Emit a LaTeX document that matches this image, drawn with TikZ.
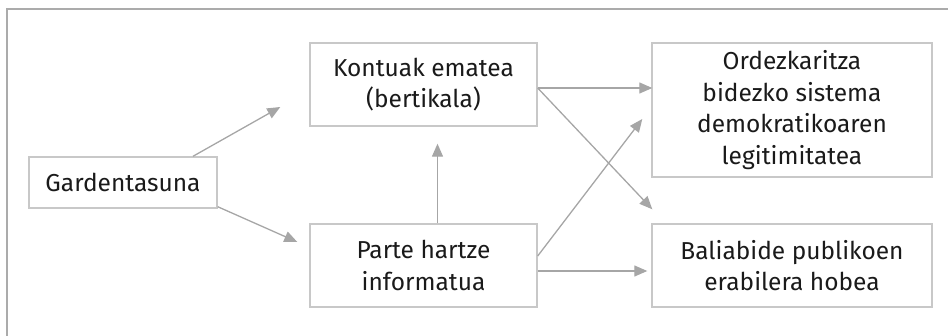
\documentclass[tikz,border=0pt]{standalone}
\usepackage{fontspec}
\setmainfont{Fira Sans}
\usetikzlibrary{arrows.meta}
\definecolor{boxgray}{HTML}{C8C8C8}
\definecolor{arrgray}{HTML}{A6A6A6}
\definecolor{framegray}{HTML}{ABABAB}
\definecolor{txt}{HTML}{1A1A1A}
\tikzset{
  box/.style={draw=boxgray, line width=1.4pt, rectangle, inner sep=0pt, align=center,
    text=txt, font=\fontsize{24.5pt}{31.5pt}\selectfont},
  arr/.style={draw=arrgray, line width=1.3pt, -{Triangle[length=13pt,width=11pt]}}
}
\begin{document}
\begin{tikzpicture}[x=1pt,y=1pt]
\useasboundingbox (0,0) rectangle (948,-336);
\draw[framegray, line width=1.4pt] (7,-336) -- (7,-9) -- (948,-9);

\node[box, minimum width=188pt, minimum height=51pt] (g) at (123,-182.5) {Gardentasuna};
\node[box, minimum width=227pt, minimum height=83pt] (k) at (423.5,-84.5) {Kontuak ematea\\(bertikala)};
\node[box, minimum width=227pt, minimum height=83pt] (p) at (423.5,-265.5) {Parte hartze\\informatua};
\node[box, minimum width=280pt, minimum height=134pt] (o) at (792,-110) {Ordezkaritza\\bidezko sistema\\demokratikoaren\\legitimitatea};
\node[box, minimum width=280pt, minimum height=83pt] (b) at (792,-265.5) {Baliabide publikoen\\erabilera hobea};

\draw[arr] ([xshift=70pt]g.north) -- ([xshift=-29pt,yshift=-22.5pt]k.west);
\draw[arr] ([yshift=2pt]g.south east) -- ([xshift=-12pt,yshift=23.5pt]p.west);
\draw[arr] ([xshift=14pt]p.north) -- ([xshift=14pt,yshift=-17pt]k.south);
\draw[arr] ([yshift=-3.5pt]k.east) -- ([xshift=1pt,yshift=22pt]o.west);
\draw[arr] ([yshift=-3.5pt]k.east) -- ([xshift=1pt,yshift=14pt]b.north west);
\draw[arr] ([yshift=9.5pt]p.east) -- ([xshift=-9pt,yshift=-9pt]o.west);
\draw[arr] ([yshift=-5.5pt]p.east) -- ([xshift=-4pt,yshift=-5.5pt]b.west);
\end{tikzpicture}
\end{document}
